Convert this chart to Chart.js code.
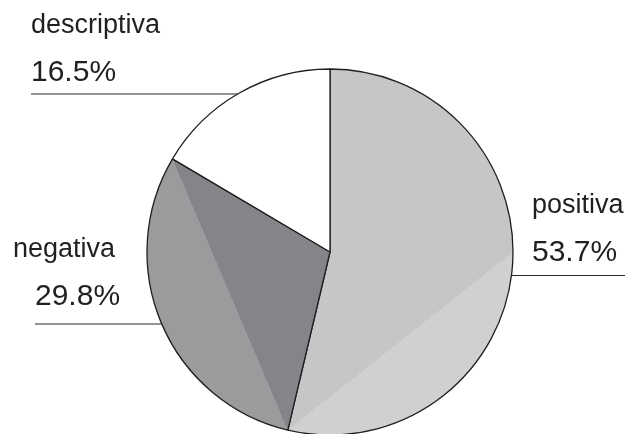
<!DOCTYPE html>
<html>
<head>
<meta charset="utf-8">
<script src="https://cdn.jsdelivr.net/npm/chart.js@4"></script>
<style>
  html, body { margin: 0; padding: 0; background: #fff; overflow: hidden; }
  #wrap { width: 625px; height: 434px; position: relative; }
</style>
</head>
<body>
<div id="wrap"><canvas id="pieChart"></canvas></div>
<script>
// tone categories and their share (%)
const categories = ['positiva', 'negativa', 'descriptiva'];
const shares = [53.7, 29.8, 16.5];
const shareLabels = ['53.7%', '29.8%', '16.5%'];

// fill per slice: flat inner triangle + lighter outer segment past the chord
const shade = [
    { inner: '#c6c6c8', outer: '#d0d0d1', fromDeg: 90 },
    { inner: '#848589', outer: '#9b9b9e' },
    { inner: '#ffffff', outer: '#ffffff' }
];
// where each label sits and its leader line
const labelPos = [
    { x: 532, y: 213, px: 532, py: 261, lineY: 275.5, side: 'right' },
    { x: 13, y: 257, px: 35, py: 305, lineY: 324, side: 'left' },
    { x: 31, y: 33, px: 31, py: 81, lineY: 94, side: 'left' }
];
const PIE_R = 183;
const INK = '#231f20';
const FONT_FAMILY = '"Liberation Sans", Arial, Helvetica, sans-serif';

function sliceAngles(i) {
    const total = shares.reduce((a, b) => a + b, 0);
    let cum = 0;
    for (let k = 0; k < i; k++) cum += shares[k];
    const start = -Math.PI / 2 + 2 * Math.PI * cum / total;
    const end = start + 2 * Math.PI * shares[i] / total;
    return { start, end };
}

function sliceFill(ctx) {
    const chart = ctx.chart;
    const i = ctx.dataIndex;
    const s = shade[i];
    const area = chart.chartArea;
    if (!area) return s.inner;
    const cx = (area.left + area.right) / 2, cy = (area.top + area.bottom) / 2;
    let { start, end } = sliceAngles(i);
    if (s.fromDeg !== undefined) start = -Math.PI / 2 + s.fromDeg * Math.PI / 180;
    const ax = cx + PIE_R * Math.cos(start), ay = cy + PIE_R * Math.sin(start);
    const bx = cx + PIE_R * Math.cos(end), by = cy + PIE_R * Math.sin(end);
    const mx = (ax + bx) / 2 - cx, my = (ay + by) / 2 - cy;
    const d = Math.hypot(mx, my) || 1;
    const nx = mx / d, ny = my / d;
    const g = chart.ctx.createLinearGradient(cx, cy, cx + nx * PIE_R, cy + ny * PIE_R);
    const t = Math.min(d / PIE_R, 1);
    g.addColorStop(0, s.inner);
    g.addColorStop(t, s.inner);
    g.addColorStop(t, s.outer);
    g.addColorStop(1, s.outer);
    return g;
}

// names, percentages and horizontal leader lines outside the pie
const outsideLabels = {
    id: 'outsideLabels',
    afterDraw(chart) {
        const c = chart.ctx;
        const area = chart.chartArea;
        const cx = (area.left + area.right) / 2, cy = (area.top + area.bottom) / 2;
        c.save();
        c.fillStyle = INK;
        c.textBaseline = 'alphabetic';
        c.textAlign = 'left';
        categories.forEach((name, i) => {
            const p = labelPos[i];
            c.font = '27px ' + FONT_FAMILY;
            c.fillText(name, p.x, p.y);
            c.font = '30px ' + FONT_FAMILY;
            c.fillText(shareLabels[i], p.px, p.py);
            const dy = p.lineY - cy;
            const dx = Math.sqrt(Math.max(PIE_R * PIE_R - dy * dy, 0));
            c.beginPath();
            c.strokeStyle = '#2a2a2a';
            c.lineWidth = 1.2;
            if (p.side === 'left') {
                c.moveTo(p.px, p.lineY);
                c.lineTo(cx - dx, p.lineY);
            } else {
                c.moveTo(cx + dx, p.lineY);
                c.lineTo(chart.width, p.lineY);
            }
            c.stroke();
        });
        c.restore();
    }
};

new Chart(document.getElementById('pieChart'), {
    type: 'pie',
    data: {
        labels: categories,
        datasets: [{
            data: shares,
            backgroundColor: sliceFill,
            borderColor: '#1e1e1e',
            borderWidth: 1.3
        }]
    },
    options: {
        responsive: true,
        maintainAspectRatio: false,
        animation: false,
        radius: PIE_R,
        layout: { padding: { top: 70, bottom: 0, left: 35, right: 0 } },
        plugins: {
            legend: { display: false },
            tooltip: { enabled: false }
        }
    },
    plugins: [outsideLabels]
});
</script>
</body>
</html>
